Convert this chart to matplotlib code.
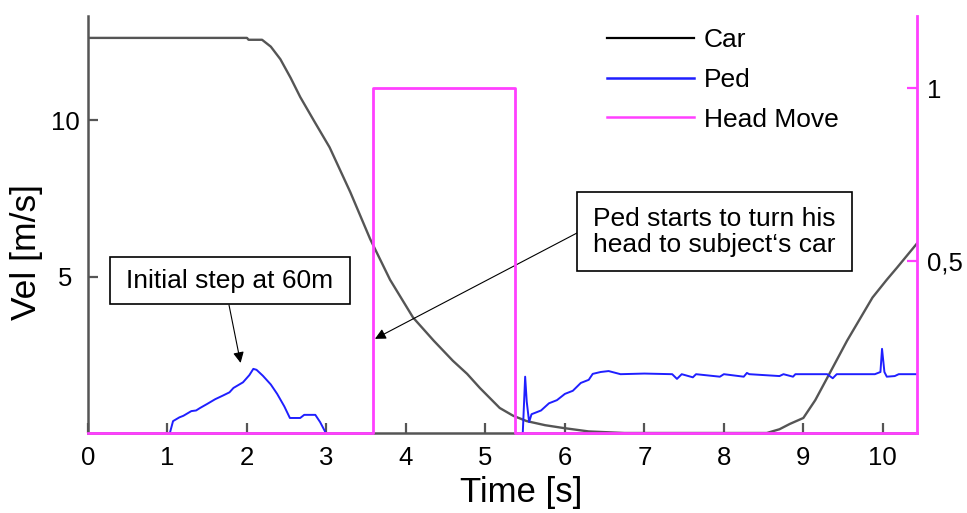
import numpy as np
import matplotlib
matplotlib.use('Agg')
import matplotlib.pyplot as plt
from matplotlib.lines import Line2D
from matplotlib.patches import Rectangle

plt.rcParams['font.family'] = ['Liberation Sans', 'DejaVu Sans']

# Car velocity [m/s]
car_t = [0, 2.0, 2.02, 2.19, 2.3, 2.42, 2.55, 2.67, 2.85, 3.04, 3.3, 3.55, 3.8, 4.09,
         4.35, 4.59, 4.77, 4.93, 5.18, 5.35, 5.52, 5.75, 5.98, 6.3, 6.75, 8.54, 8.7,
         8.83, 9.0, 9.15, 9.3, 9.55, 9.87, 10.05, 10.18, 10.43]
car_v = [12.63, 12.63, 12.57, 12.57, 12.35, 11.95, 11.35, 10.74, 9.95, 9.13, 7.7, 6.2,
         4.9, 3.69, 2.95, 2.31, 1.89, 1.44, 0.80, 0.55, 0.38, 0.25, 0.16, 0.05, 0.0,
         0.0, 0.12, 0.29, 0.48, 1.05, 1.76, 2.95, 4.33, 4.9, 5.29, 6.06]

# Pedestrian velocity [m/s]
ped_t = [1.03, 1.07, 1.15, 1.2, 1.3, 1.36, 1.41, 1.5, 1.6, 1.7, 1.78, 1.83, 1.95, 2.03,
         2.08, 2.12, 2.2, 2.3, 2.38, 2.47, 2.54, 2.67, 2.72, 2.86, 2.92, 2.98, np.nan,
         5.47, 5.50, 5.52, 5.55, 5.58, 5.7, 5.8, 5.9, 6.0, 6.1, 6.2, 6.3, 6.35, 6.45,
         6.55, 6.7, 7.0, 7.35, 7.41, 7.47, 7.61, 7.65, 7.95, 8.0, 8.25, 8.29, 8.32, 8.7,
         8.75, 8.87, 8.9, 9.3, 9.37, 9.42, 9.9, 9.97, 9.99, 10.02, 10.05, 10.15, 10.2,
         10.43]
ped_v = [0.0, 0.38, 0.5, 0.55, 0.7, 0.72, 0.80, 0.93, 1.08, 1.2, 1.3, 1.44, 1.62, 1.85,
         2.05, 2.02, 1.83, 1.55, 1.25, 0.85, 0.48, 0.48, 0.58, 0.58, 0.35, 0.06, np.nan,
         0.0, 1.8, 1.0, 0.35, 0.6, 0.72, 0.95, 1.05, 1.25, 1.35, 1.6, 1.7, 1.89, 1.95,
         1.98, 1.88, 1.9, 1.88, 1.73, 1.88, 1.78, 1.88, 1.8, 1.88, 1.8, 1.92, 1.88, 1.82,
         1.88, 1.8, 1.88, 1.88, 1.75, 1.88, 1.88, 1.95, 2.69, 1.95, 1.8, 1.82, 1.88,
         1.88]

# Head movement flag (right axis)
head_t = [0, 3.58, 3.58, 5.37, 5.37, 10.43]
head_v = [0, 0, 1, 1, 0, 0]

x_ticks = list(range(0, 11))
y_ticks = [5, 10]
head_ticks = [0.5, 1]
head_tick_labels = ['0,5', '1']

grey = '#555555'
pink = '#ff40ff'
blue = '#1f1fff'

W, H = 967, 513
fig = plt.figure(figsize=(W / 100, H / 100), dpi=100)
ax = fig.add_axes([88 / W, 1 - 433 / H, 829 / W, 417 / H])
ax2 = ax.twinx()

ax.plot(car_t, car_v, color=grey, lw=1.7)
ax.plot(ped_t, ped_v, color=blue, lw=1.4)
ax2.plot(head_t, head_v, color=pink, lw=2.0, clip_on=False)

ax.set_xlim(0, 10.43)
ax.set_ylim(0, 13.33)
ax2.set_ylim(0, 1.209)

ax.set_xticks(x_ticks)
ax.set_yticks(y_ticks)
ax2.set_yticks(head_ticks)
ax2.set_yticklabels(head_tick_labels)

for s in ['top', 'right']:
    ax.spines[s].set_visible(False)
for s in ['top', 'left', 'bottom']:
    ax2.spines[s].set_visible(False)
ax.spines['left'].set_color(grey)
ax.spines['bottom'].set_color(grey)
ax.spines['left'].set_linewidth(1.8)
ax.spines['bottom'].set_linewidth(1.8)
ax2.spines['right'].set_color(pink)
ax2.spines['right'].set_linewidth(2)

ax.tick_params(axis='both', direction='in', length=7, width=1.6, color=grey,
               labelsize=18.5)
ax.tick_params(axis='x', pad=9.5)
ax.tick_params(axis='y', pad=16.5)
for lab in ax.get_yticklabels():
    lab.set_horizontalalignment('center')
ax2.tick_params(axis='y', direction='in', length=7, width=1.6, color=pink,
                labelsize=18.5, pad=7)

ax.set_xlabel('Time [s]', fontsize=25)
ax.set_ylabel('Vel [m/s]', fontsize=25.5)
ax.xaxis.set_label_coords(0.523, -0.103)
ax.yaxis.set_label_coords(-0.054, 0.434)

handles = [Line2D([], [], color='black', lw=1.6),
           Line2D([], [], color=blue, lw=1.8),
           Line2D([], [], color=pink, lw=1.8)]
ax2.legend(handles, ['Car', 'Ped', 'Head Move'], loc='upper left',
           bbox_to_anchor=(607 / W, 1 - 28 / H), bbox_transform=fig.transFigure,
           frameon=False, fontsize=19, handlelength=3.3, handletextpad=0.38,
           labelspacing=0.6, borderpad=0, borderaxespad=0)

# annotation boxes (figure pixels, from top-left)
def box(x0, y0, x1, y1):
    fig.add_artist(Rectangle((x0 / W, 1 - y1 / H), (x1 - x0) / W, (y1 - y0) / H,
                             transform=fig.transFigure, fc='white', ec='black',
                             lw=1.2, zorder=5))

box(110, 257, 350, 304)
box(577, 192, 852, 271)
fig.text(230 / W, 1 - 281 / H, 'Initial step at 60m', ha='center', va='center',
         fontsize=19, zorder=6)
fig.text(714.5 / W, 1 - 232 / H, 'Ped starts to turn his\nhead to subject\u2018s car',
         ha='center', va='center', fontsize=19, linespacing=1.15, zorder=6)

arrow = dict(arrowstyle='-|>', color='black', lw=0.8, mutation_scale=16,
             shrinkA=0, shrinkB=0)
ax.annotate('', xy=(1.92, 2.24), xytext=(229, H - 305), textcoords='figure pixels',
            arrowprops=arrow)
ax.annotate('', xy=(3.61, 3.01), xytext=(577, H - 233), textcoords='figure pixels',
            arrowprops=arrow)

fig.savefig('out.png', dpi=100)
